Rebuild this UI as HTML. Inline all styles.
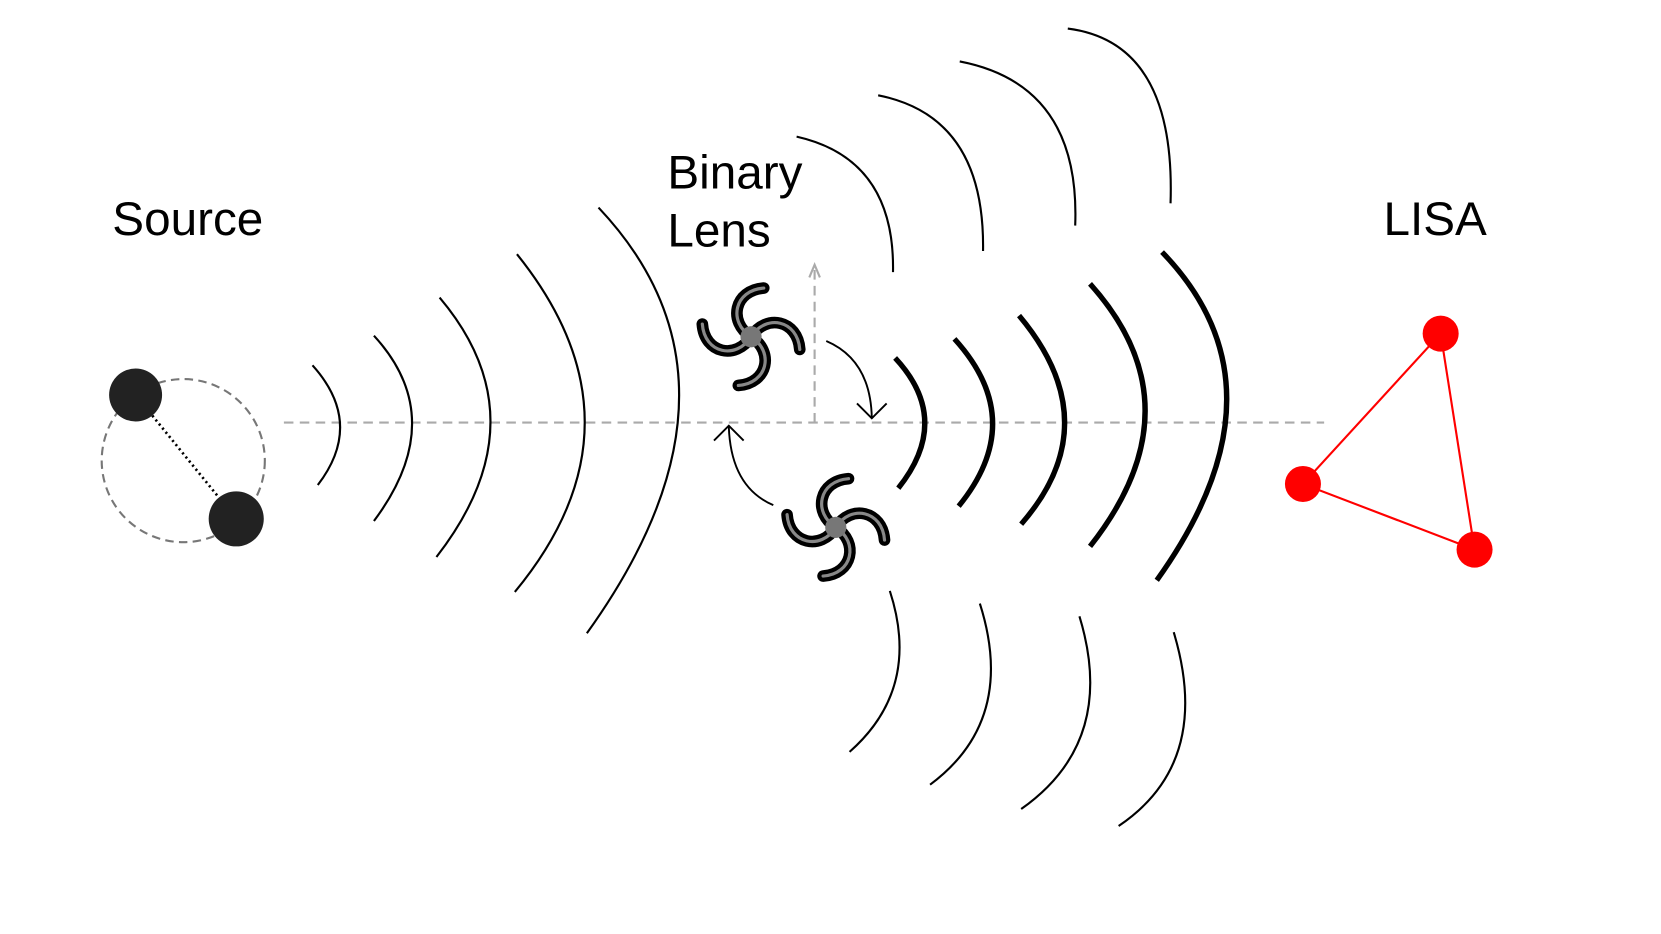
<!DOCTYPE html>
<html><head><style>html,body{margin:0;padding:0;background:#fff;}svg{display:block}</style></head>
<body>
<svg width="1661" height="934" viewBox="0 0 1568 882" preserveAspectRatio="none" xmlns="http://www.w3.org/2000/svg">
<defs>
<g id="arms" fill="none" stroke-linecap="round">
  <path d="M0,0 C-22,-14 -16,-44 12,-46" fill="none"/>
  <path d="M0,0 C-22,-14 -16,-44 12,-46" fill="none" transform="rotate(90)"/>
  <path d="M0,0 C-22,-14 -16,-44 12,-46" fill="none" transform="rotate(180)"/>
  <path d="M0,0 C-22,-14 -16,-44 12,-46" fill="none" transform="rotate(270)"/>
</g>
</defs>
<g font-family="Liberation Sans, sans-serif" font-size="45" fill="#000">
<text x="106" y="222">Source</text>
<text x="630" y="178">Binary</text>
<text x="630" y="233">Lens</text>
<text x="1306" y="222">LISA</text>
</g>
<line x1="268" y1="399" x2="1250" y2="399" stroke="#aaa" stroke-width="2" stroke-dasharray="9,6"/>
<line x1="769" y1="399" x2="769" y2="252" stroke="#aaa" stroke-width="2" stroke-dasharray="9,6"/>
<path d="M764,262 L769,250 L774,262" fill="none" stroke="#aaa" stroke-width="2"/>
<circle cx="173" cy="435" r="77" fill="none" stroke="#777" stroke-width="2" stroke-dasharray="8,5"/>
<line x1="128" y1="373" x2="223" y2="490" stroke="#000" stroke-width="2.5" stroke-dasharray="2,3"/>
<circle cx="128" cy="373" r="25" fill="#222"/>
<circle cx="223" cy="490" r="26" fill="#222"/>
<g fill="none" stroke="#000" stroke-width="2">
<path d="M295,345 Q344.5,400 300,458"/>
<path d="M353,317 Q425,395.5 353,492"/>
<path d="M415,281 Q512.5,396.5 412,526"/>
<path d="M488,240 Q617,400.5 486,559"/>
<path d="M565,196 Q722.5,363 554,598"/>
<path d="M752,129 Q845,150 843,257"/>
<path d="M829,90 Q930,110 928,237"/>
<path d="M906,58 Q1020,80 1015,213"/>
<path d="M1008,27 Q1110,40 1105,192"/>
<path d="M840,558 Q870,650 802,710"/>
<path d="M925,570 Q960,680 878,741"/>
<path d="M1019,582 Q1055,700 964,764"/>
<path d="M1108,597 Q1145,720 1056,780"/>
</g>
<g fill="none" stroke="#000" stroke-width="5">
<path d="M845,338 Q899.5,396.5 848,461"/>
<path d="M901,320 Q971,397 905,478"/>
<path d="M962,298 Q1047,399.5 964,495"/>
<path d="M1029,268 Q1133,384 1029,516"/>
<path d="M1097,238 Q1221.5,367 1092,548"/>
</g>
<g fill="none" stroke="#000" stroke-width="1.8">
<path d="M780,322 Q822,340 823,395"/>
<path d="M809,381 L823,395 L837,381"/>
<path d="M730,477 Q690,460 688,403"/>
<path d="M674,416 L688,402 L702,416"/>
</g>
<g transform="translate(709,318)">
  <use href="#arms" stroke="#000" stroke-width="11"/>
  <use href="#arms" stroke="#888" stroke-width="3"/>
  <circle r="10" fill="#777"/>
</g>
<g transform="translate(789,498)">
  <use href="#arms" stroke="#000" stroke-width="11"/>
  <use href="#arms" stroke="#888" stroke-width="3"/>
  <circle r="10" fill="#777"/>
</g>
<polygon points="1360,315 1230,457 1392,519" fill="none" stroke="#f00" stroke-width="2"/>
<circle cx="1360" cy="315" r="17" fill="#f00"/>
<circle cx="1230" cy="457" r="17" fill="#f00"/>
<circle cx="1392" cy="519" r="17" fill="#f00"/>
</svg>
</body></html>
